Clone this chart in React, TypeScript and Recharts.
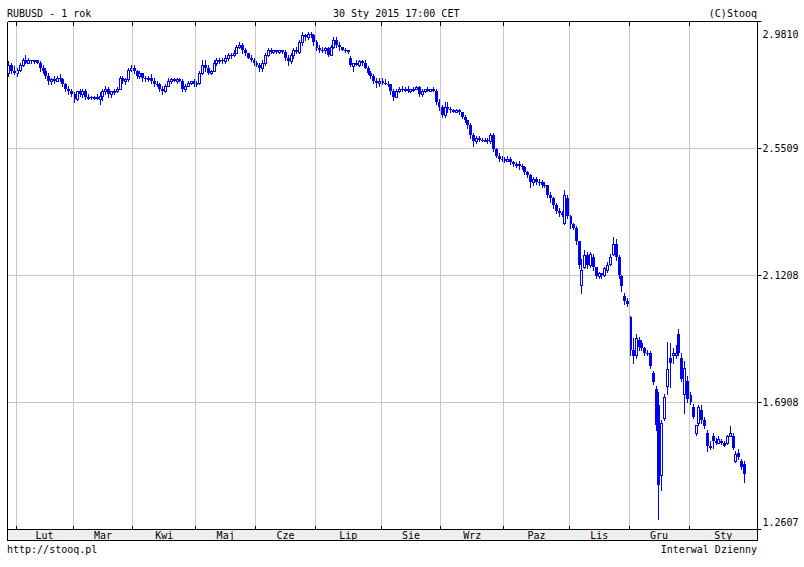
import { ComposedChart, Bar, XAxis, YAxis, CartesianGrid, ReferenceLine } from "recharts";

const FONT = '"DejaVu Sans Mono", "Liberation Mono", monospace';
const BLUE = "#0000ee";
const GRID = "#c8c8c8";

const Y_MIN = 1.2607;
const Y_MAX = 2.981;
const Y_TICKS = [1.2607, 1.6908, 2.1208, 2.5509, 2.981];

// month labels under the chart (Feb 2014 .. Jan 2015)
const MONTHS = ["Lut", "Mar", "Kwi", "Maj", "Cze", "Lip", "Sie", "Wrz", "Paz", "Lis", "Gru", "Sty"];
// trading days per month, first entry is the tail of Jan 2014
const MONTH_DAYS = [3, 20, 21, 22, 21, 21, 23, 21, 22, 23, 21, 21];
// day slots on the axis (Jan 2015 leaves a few empty ones at the right)
const SLOTS = 263;

const OPEN = [
  2.808, 2.835, 2.815,
  2.808, 2.818, 2.835, 2.849, 2.842, 2.849, 2.846, 2.849, 2.842, 2.822, 2.815, 2.798, 2.778, 2.785, 2.781, 2.791, 2.785, 2.768, 2.751, 2.744,
  2.737, 2.717, 2.744, 2.737, 2.747, 2.724, 2.727, 2.724, 2.727, 2.720, 2.730, 2.747, 2.754, 2.737, 2.744, 2.747, 2.754, 2.791, 2.781, 2.785, 2.818,
  2.825, 2.815, 2.795, 2.805, 2.788, 2.785, 2.788, 2.781, 2.771, 2.768, 2.751, 2.744, 2.764, 2.781, 2.785, 2.781, 2.785, 2.781, 2.754, 2.764, 2.774, 2.778,
  2.771, 2.774, 2.808, 2.835, 2.822, 2.808, 2.815, 2.842, 2.849, 2.852, 2.846, 2.859, 2.869, 2.866, 2.876, 2.896, 2.903, 2.883, 2.873, 2.859, 2.852,
  2.839, 2.835, 2.822, 2.842, 2.869, 2.883, 2.879, 2.883, 2.879, 2.883, 2.879, 2.859, 2.846, 2.866, 2.883, 2.879, 2.910, 2.934, 2.927, 2.937, 2.934,
  2.910, 2.890, 2.886, 2.883, 2.890, 2.869, 2.893, 2.917, 2.903, 2.893, 2.886, 2.883, 2.859, 2.829, 2.839, 2.835, 2.846, 2.842, 2.825, 2.808, 2.795, 2.781, 2.774,
  2.781, 2.774, 2.771, 2.768, 2.744, 2.727, 2.747, 2.754, 2.751, 2.754, 2.747, 2.751, 2.754, 2.758, 2.737, 2.747, 2.751, 2.747, 2.751, 2.747, 2.710,
  2.690, 2.663, 2.690, 2.683, 2.680, 2.676, 2.680, 2.673, 2.659, 2.646, 2.629, 2.595, 2.575, 2.588, 2.581, 2.578, 2.581, 2.575, 2.598, 2.548, 2.527, 2.517,
  2.514, 2.510, 2.517, 2.504, 2.497, 2.500, 2.490, 2.487, 2.470, 2.460, 2.436, 2.446, 2.439, 2.436, 2.429, 2.426, 2.395, 2.382, 2.358, 2.338, 2.331, 2.300, 2.382,
  2.321, 2.294, 2.283, 2.236, 2.090, 2.151, 2.189, 2.158, 2.185, 2.148, 2.118, 2.128, 2.121, 2.141, 2.161, 2.192, 2.226, 2.182, 2.118, 2.053, 2.033,
  1.979, 1.867, 1.850, 1.901, 1.891, 1.874, 1.860, 1.857, 1.792, 1.738, 1.681, 1.444, 1.637, 1.748, 1.840, 1.850, 1.853, 1.924, 1.843, 1.721, 1.765,
  1.715, 1.677, 1.589, 1.623, 1.664, 1.633, 1.586, 1.545, 1.579, 1.562, 1.555, 1.559, 1.555, 1.555, 1.579, 1.579, 1.494, 1.521, 1.494, 1.484,
];

const HIGH = [
  2.846, 2.839, 2.829,
  2.825, 2.842, 2.856, 2.866, 2.856, 2.852, 2.852, 2.852, 2.846, 2.835, 2.822, 2.808, 2.791, 2.795, 2.798, 2.802, 2.791, 2.774, 2.761, 2.754,
  2.741, 2.747, 2.754, 2.751, 2.751, 2.734, 2.730, 2.730, 2.734, 2.741, 2.751, 2.761, 2.758, 2.747, 2.751, 2.758, 2.798, 2.795, 2.788, 2.825, 2.835,
  2.835, 2.818, 2.812, 2.808, 2.798, 2.795, 2.802, 2.788, 2.781, 2.774, 2.761, 2.771, 2.788, 2.791, 2.788, 2.788, 2.791, 2.785, 2.768, 2.781, 2.781, 2.785,
  2.781, 2.815, 2.849, 2.849, 2.832, 2.818, 2.849, 2.856, 2.859, 2.859, 2.866, 2.876, 2.876, 2.883, 2.903, 2.910, 2.907, 2.890, 2.876, 2.866, 2.856,
  2.846, 2.839, 2.849, 2.876, 2.890, 2.890, 2.886, 2.886, 2.886, 2.886, 2.883, 2.866, 2.873, 2.890, 2.893, 2.917, 2.944, 2.940, 2.947, 2.944, 2.937,
  2.917, 2.900, 2.893, 2.896, 2.896, 2.900, 2.927, 2.930, 2.910, 2.896, 2.890, 2.886, 2.863, 2.842, 2.849, 2.852, 2.852, 2.849, 2.829, 2.815, 2.802, 2.791, 2.788,
  2.788, 2.785, 2.778, 2.771, 2.751, 2.754, 2.758, 2.761, 2.758, 2.761, 2.754, 2.758, 2.761, 2.761, 2.751, 2.754, 2.758, 2.754, 2.758, 2.751, 2.717,
  2.697, 2.707, 2.707, 2.690, 2.686, 2.683, 2.686, 2.676, 2.663, 2.649, 2.636, 2.602, 2.592, 2.592, 2.588, 2.585, 2.588, 2.605, 2.602, 2.554, 2.534, 2.524,
  2.521, 2.524, 2.521, 2.510, 2.504, 2.507, 2.497, 2.490, 2.476, 2.463, 2.453, 2.456, 2.449, 2.443, 2.436, 2.429, 2.402, 2.388, 2.365, 2.348, 2.338, 2.409, 2.392,
  2.327, 2.300, 2.287, 2.239, 2.178, 2.206, 2.199, 2.202, 2.192, 2.151, 2.134, 2.131, 2.151, 2.165, 2.195, 2.250, 2.246, 2.189, 2.124, 2.060, 2.043,
  1.985, 1.908, 1.924, 1.911, 1.901, 1.880, 1.867, 1.864, 1.799, 1.748, 1.725, 1.630, 1.721, 1.894, 1.891, 1.874, 1.884, 1.941, 1.860, 1.833, 1.782,
  1.725, 1.687, 1.616, 1.684, 1.681, 1.640, 1.596, 1.562, 1.589, 1.569, 1.576, 1.566, 1.562, 1.582, 1.610, 1.589, 1.525, 1.532, 1.501, 1.494,
];

const LOW = [
  2.798, 2.808, 2.802,
  2.795, 2.812, 2.829, 2.839, 2.839, 2.842, 2.839, 2.842, 2.815, 2.808, 2.791, 2.771, 2.771, 2.774, 2.778, 2.781, 2.761, 2.744, 2.737, 2.730,
  2.710, 2.714, 2.730, 2.724, 2.717, 2.717, 2.720, 2.717, 2.717, 2.703, 2.714, 2.734, 2.727, 2.727, 2.734, 2.741, 2.751, 2.774, 2.771, 2.778, 2.812,
  2.808, 2.788, 2.788, 2.781, 2.778, 2.778, 2.774, 2.764, 2.761, 2.744, 2.734, 2.741, 2.761, 2.774, 2.778, 2.774, 2.778, 2.747, 2.747, 2.761, 2.768, 2.764,
  2.764, 2.768, 2.802, 2.815, 2.802, 2.802, 2.812, 2.835, 2.842, 2.839, 2.842, 2.852, 2.859, 2.863, 2.873, 2.890, 2.876, 2.866, 2.856, 2.846, 2.832,
  2.829, 2.812, 2.815, 2.835, 2.863, 2.876, 2.876, 2.876, 2.873, 2.876, 2.852, 2.835, 2.842, 2.859, 2.873, 2.876, 2.903, 2.920, 2.923, 2.927, 2.903,
  2.883, 2.879, 2.879, 2.873, 2.863, 2.866, 2.890, 2.896, 2.886, 2.883, 2.879, 2.876, 2.829, 2.815, 2.832, 2.829, 2.835, 2.822, 2.802, 2.788, 2.774, 2.758, 2.764,
  2.768, 2.768, 2.761, 2.737, 2.714, 2.724, 2.741, 2.744, 2.747, 2.741, 2.741, 2.744, 2.751, 2.730, 2.730, 2.741, 2.744, 2.744, 2.744, 2.700, 2.680,
  2.659, 2.656, 2.676, 2.673, 2.673, 2.673, 2.669, 2.653, 2.639, 2.622, 2.588, 2.561, 2.571, 2.575, 2.575, 2.575, 2.571, 2.571, 2.541, 2.521, 2.510, 2.507,
  2.504, 2.507, 2.497, 2.490, 2.487, 2.483, 2.480, 2.463, 2.453, 2.419, 2.426, 2.432, 2.429, 2.422, 2.419, 2.388, 2.371, 2.351, 2.331, 2.324, 2.321, 2.294, 2.314,
  2.283, 2.277, 2.226, 2.145, 2.060, 2.145, 2.145, 2.151, 2.141, 2.111, 2.111, 2.111, 2.118, 2.134, 2.158, 2.189, 2.175, 2.111, 2.070, 2.023, 2.016,
  1.850, 1.826, 1.840, 1.867, 1.870, 1.853, 1.850, 1.806, 1.752, 1.599, 1.295, 1.393, 1.630, 1.721, 1.742, 1.826, 1.840, 1.853, 1.762, 1.654, 1.691,
  1.687, 1.637, 1.582, 1.613, 1.623, 1.603, 1.528, 1.532, 1.535, 1.549, 1.552, 1.549, 1.542, 1.549, 1.576, 1.532, 1.488, 1.498, 1.467, 1.420,
];

const CLOSE = [
  2.835, 2.815, 2.808,
  2.818, 2.835, 2.849, 2.842, 2.849, 2.846, 2.849, 2.842, 2.822, 2.815, 2.798, 2.778, 2.785, 2.781, 2.791, 2.785, 2.768, 2.751, 2.744, 2.737,
  2.717, 2.744, 2.737, 2.747, 2.724, 2.727, 2.724, 2.727, 2.720, 2.730, 2.747, 2.754, 2.737, 2.744, 2.747, 2.754, 2.791, 2.781, 2.785, 2.818, 2.825,
  2.815, 2.795, 2.805, 2.788, 2.785, 2.788, 2.781, 2.771, 2.768, 2.751, 2.744, 2.764, 2.781, 2.785, 2.781, 2.785, 2.781, 2.754, 2.764, 2.774, 2.778, 2.771,
  2.774, 2.808, 2.835, 2.822, 2.808, 2.815, 2.842, 2.849, 2.852, 2.846, 2.859, 2.869, 2.866, 2.876, 2.896, 2.903, 2.883, 2.873, 2.859, 2.852, 2.839,
  2.835, 2.822, 2.842, 2.869, 2.883, 2.879, 2.883, 2.879, 2.883, 2.879, 2.859, 2.846, 2.866, 2.883, 2.879, 2.910, 2.934, 2.927, 2.937, 2.934, 2.910,
  2.890, 2.886, 2.883, 2.890, 2.869, 2.893, 2.917, 2.903, 2.893, 2.886, 2.883, 2.879, 2.835, 2.839, 2.835, 2.846, 2.842, 2.825, 2.808, 2.795, 2.781, 2.774, 2.781,
  2.774, 2.771, 2.768, 2.744, 2.727, 2.747, 2.754, 2.751, 2.754, 2.747, 2.751, 2.754, 2.758, 2.737, 2.747, 2.751, 2.747, 2.751, 2.747, 2.710, 2.690,
  2.666, 2.690, 2.683, 2.680, 2.676, 2.680, 2.673, 2.659, 2.646, 2.629, 2.595, 2.578, 2.588, 2.581, 2.578, 2.581, 2.575, 2.598, 2.548, 2.527, 2.517, 2.514,
  2.510, 2.517, 2.504, 2.497, 2.500, 2.490, 2.487, 2.470, 2.460, 2.436, 2.446, 2.439, 2.436, 2.429, 2.426, 2.395, 2.382, 2.358, 2.338, 2.331, 2.327, 2.395, 2.321,
  2.294, 2.283, 2.236, 2.155, 2.138, 2.189, 2.155, 2.192, 2.148, 2.118, 2.128, 2.121, 2.145, 2.158, 2.185, 2.229, 2.182, 2.121, 2.084, 2.033, 2.026,
  1.867, 1.847, 1.908, 1.880, 1.877, 1.860, 1.857, 1.813, 1.759, 1.613, 1.410, 1.620, 1.711, 1.803, 1.826, 1.857, 1.860, 1.860, 1.772, 1.809, 1.704,
  1.694, 1.643, 1.613, 1.677, 1.633, 1.610, 1.545, 1.538, 1.562, 1.552, 1.566, 1.552, 1.545, 1.576, 1.589, 1.535, 1.515, 1.505, 1.471, 1.450,
];

// first slot of every month, and the middle of each month for its label
const BOUNDS = MONTH_DAYS.map((_, k) => MONTH_DAYS.slice(0, k + 1).reduce((a, b) => a + b, 0));
const MIDS = BOUNDS.map((b, k) => (b + (k + 1 < BOUNDS.length ? BOUNDS[k + 1] : SLOTS)) / 2);
const TICK_LEN = ((Y_MAX - Y_MIN) * 4) / 508;

const rows = OPEN.map((open, i) => ({ x: i + 0.5, open, high: HIGH[i], low: LOW[i], close: CLOSE[i] }));

const Candle = (props: any) => {
  const { x, y, width, height, payload } = props;
  if (x == null || !payload) return null;
  const top = Math.min(y, y + height);
  const span = Math.abs(height);
  const { open, high, low, close } = payload;
  const toPx = (v: number) => top + ((high - v) / (high - low || 1)) * span;
  const cx = Math.floor(x + width / 2);
  const yHigh = Math.round(top);
  const yLow = Math.round(top + span);
  const yO = Math.round(toPx(open));
  const yC = Math.round(toPx(close));
  const bTop = Math.min(yO, yC);
  const bBot = Math.max(yO, yC);
  if (close > open) {
    return (
      <g>
        <line x1={cx + 0.5} x2={cx + 0.5} y1={yHigh} y2={bTop} stroke={BLUE} />
        <line x1={cx + 0.5} x2={cx + 0.5} y1={bBot + 1} y2={yLow + 1} stroke={BLUE} />
        <rect x={cx - 0.5} y={bTop + 0.5} width={2} height={Math.max(bBot - bTop, 1)} fill="#fff" stroke={BLUE} />
      </g>
    );
  }
  return (
    <g>
      <line x1={cx + 0.5} x2={cx + 0.5} y1={yHigh} y2={yLow + 1} stroke={BLUE} />
      <rect x={cx - 1} y={bTop} width={3} height={Math.max(bBot - bTop, 1)} fill={BLUE} />
    </g>
  );
};

const PriceTick = (props: any) => {
  const { x, y, payload } = props;
  const base = Math.min(Math.max(y + 3.5, 37.5), 526);
  return (
    <text x={x} y={base} fontFamily={FONT} fontSize={10} fill="#000">
      {Number(payload.value).toFixed(4)}
    </text>
  );
};

const MonthTick = (props: any) => {
  const { x, y, index } = props;
  return (
    <text x={x} y={y + 9.5} textAnchor="middle" fontFamily={FONT} fontSize={10} fill="#000">
      {MONTHS[index]}
    </text>
  );
};

export default function App() {
  return (
    <div style={{ position: "absolute", left: 0, top: 0, width: 804, height: 567, background: "#fff" }}>
      <style>{`.recharts-reference-line line{shape-rendering:crispEdges}`}</style>
      <div
        style={{
          position: "absolute", left: 7, top: 530, width: 751, height: 11, boxSizing: "border-box",
          background: "#eeeeee", borderLeft: "1px solid #000", borderRight: "1px solid #000", borderBottom: "1px solid #000",
        }}
      />
      <div style={{ position: "absolute", left: 0, top: 0 }}>
        <ComposedChart width={804} height={567} data={rows} margin={{ top: 21.5, right: 0, bottom: 0, left: 7.5 }}>
          <CartesianGrid vertical={false} stroke={GRID} />
          {BOUNDS.map((b) => (
            <ReferenceLine key={`g${b}`} x={b} stroke={GRID} />
          ))}
          {BOUNDS.map((b) => (
            <ReferenceLine key={`t${b}`} segment={[{ x: b, y: Y_MAX }, { x: b, y: Y_MAX - TICK_LEN }]} stroke="#000" />
          ))}
          {BOUNDS.map((b) => (
            <ReferenceLine key={`b${b}`} segment={[{ x: b, y: Y_MIN }, { x: b, y: Y_MIN + TICK_LEN }]} stroke="#000" />
          ))}
          <ReferenceLine y={Y_MAX} stroke="#000" />
          <ReferenceLine x={0} stroke="#000" />
          <XAxis
            type="number"
            dataKey="x"
            domain={[0, SLOTS]}
            ticks={MIDS}
            interval={0}
            allowDataOverflow
            height={37.5}
            axisLine={{ stroke: "#000" }}
            tickLine={false}
            tickSize={0}
            tickMargin={0}
            tick={<MonthTick />}
          />
          <YAxis
            orientation="right"
            type="number"
            domain={[Y_MIN, Y_MAX]}
            ticks={Y_TICKS}
            interval={0}
            allowDataOverflow
            width={46.5}
            axisLine={{ stroke: "#000" }}
            tickLine={{ stroke: "#000" }}
            tickSize={4}
            tickMargin={1}
            tick={<PriceTick />}
          />
          <Bar dataKey={(d: any) => [d.low, d.high]} shape={Candle} barSize={3} isAnimationActive={false} />
        </ComposedChart>
      </div>
      <svg width={804} height={567} style={{ position: "absolute", left: 0, top: 0, pointerEvents: "none" }}>
        <g fontFamily={FONT} fontSize={10} fill="#000">
          <text x={7} y={17}>RUBUSD - 1 rok</text>
          <text x={333} y={17}>30 Sty 2015 17:00 CET</text>
          <text x={757} y={17} textAnchor="end">(C)Stooq</text>
          <text x={7} y={553}>http://stooq.pl</text>
          <text x={757} y={553} textAnchor="end">Interwal Dzienny</text>
        </g>
      </svg>
    </div>
  );
}
